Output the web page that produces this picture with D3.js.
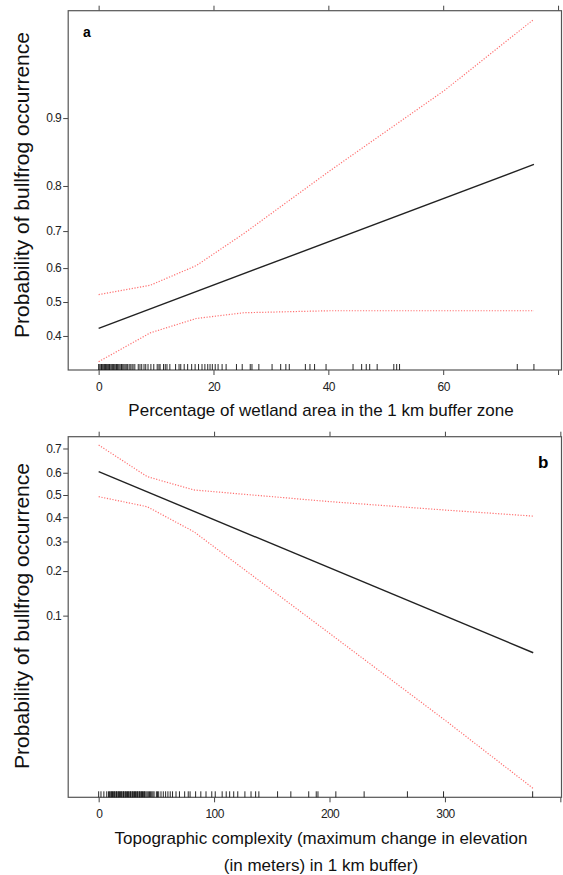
<!DOCTYPE html>
<html>
<head>
<meta charset="utf-8">
<script src="https://cdn.jsdelivr.net/npm/d3@7"></script>
<style>
  body { margin: 0; background: #fff; }
  text { font-family: "Liberation Sans", Arial, sans-serif; }
</style>
</head>
<body>
<div id="chart"></div>
<script>
// panel a: wetland %
var wetX = [0, 9, 17, 25.3, 40.2, 60.2, 75.8];
var wetFit = [0.422, 0.838];
var wetFitX = [0, 75.8];
var wetUpper = [0.522, 0.55, 0.607, 0.694, 0.827, 0.926, 0.967];
var wetLower = [0.329, 0.409, 0.451, 0.468, 0.474, 0.474, 0.474];
var wetRug = [0, 0.2, 0.4, 0.5, 0.7, 0.9, 1.0, 1.2, 1.4, 1.5, 1.7, 1.9, 2.0, 2.2, 2.4, 2.6, 2.8, 3.0, 3.1, 3.3,
  3.5, 3.7, 3.9, 4.0, 4.2, 4.4, 4.6, 4.8, 5.0, 5.3, 5.5, 5.8, 6.0, 6.3, 6.9, 7.2, 7.5, 7.9, 8.2, 8.6, 9.1,
  9.6, 10.2, 10.5, 10.7, 11.3, 11.6, 11.9, 12.4, 13.4, 14.0, 14.3, 14.9, 15.5, 16.2, 16.8, 17.4, 18.0,
  18.5, 19.0, 19.4, 19.8, 20.3, 20.8, 21.5, 22.2, 24.0, 25.0, 26.4, 26.7, 27.9, 30.2, 31.7, 32.6, 33.2,
  36.0, 36.8, 37.6, 39.6, 44.3, 45.8, 46.6, 47.2, 48.5, 51.4, 51.9, 52.4, 72.9, 75.8];
var wetXTicks = [0, 20, 40, 60, 80];
var wetYTicks = [0.4, 0.5, 0.6, 0.7, 0.8, 0.9];

// panel b: topographic complexity
var topoX = [0, 42, 82.4, 200, 300, 376.5];
var topoFit = [0.605, 0.0535];
var topoFitX = [0, 376.5];
var topoUpper = [0.713, 0.583, 0.523, 0.470, 0.432, 0.405];
var topoLower = [0.4925, 0.447, 0.339, 0.0745, 0.0163, 0.00475];
var topoRug = [0, 2, 4.5, 7, 8.5, 9.5, 10, 11, 11.5, 12, 13, 13.5, 14, 15, 15.5, 16, 17, 17.5, 18, 19, 19.5,
  20, 21, 21.5, 22, 23, 23.5, 24, 25, 25.5, 26, 27, 27.5, 28, 29, 29.5, 30, 31, 31.5, 32, 33, 33.5, 34, 35,
  35.5, 36, 37, 37.5, 38, 39, 39.5, 40, 41, 42, 43, 44, 45, 46, 47, 48, 50, 51, 52, 54, 56, 58, 60, 62, 64,
  67, 70, 74.5, 77.6, 79.2, 84, 88.5, 93, 98, 101, 107, 110.5, 113.5, 117, 120.5, 126.7, 132, 136, 138.8,
  155, 166.5, 182, 188.5, 190, 205.5, 230, 267.5, 298.8, 376];
var topoXTicks = [0, 100, 200, 300, 400];
var topoYTicks = [0.1, 0.2, 0.3, 0.4, 0.5, 0.6, 0.7];

var yTitle = "Probability of bullfrog occurrence";

var W = 563, H = 875;
var svg = d3.select("#chart").append("svg")
  .attr("width", W)
  .attr("height", H);

function logit(p) { return Math.log(p / (1 - p)); }

function drawPanel(o) {
  var x = d3.scaleLinear().domain(o.xDomain).range([o.left, o.right]);
  var y = d3.scaleLinear().domain(o.yDomain).range([o.bottom, o.top]);
  var g = svg.append("g");

  // ticks, bottom
  var xa = g.append("g")
    .attr("transform", "translate(0," + o.bottom + ")")
    .call(d3.axisBottom(x).tickValues(o.xTicks).tickSize(5).tickSizeOuter(0)
      .tickFormat(function(d, i) { return i < o.xTicks.length - 1 ? d : ""; }));
  xa.select(".domain").remove();
  xa.selectAll("text").attr("dy", "1.05em");

  // ticks, top (no labels)
  var xt = g.append("g")
    .attr("transform", "translate(0," + o.top + ")")
    .call(d3.axisTop(x).tickValues(o.xTicks).tickSize(5).tickFormat(""));
  xt.select(".domain").remove();

  var ya = g.append("g")
    .attr("transform", "translate(" + o.left + ",0)")
    .call(d3.axisLeft(y).tickValues(o.yTicks.map(logit)).tickSize(5)
      .tickFormat(function(d, i) { return o.yTicks[i].toFixed(1); }));
  ya.select(".domain").remove();
  ya.selectAll("text").attr("x", -7);

  g.selectAll(".tick line").attr("stroke", "#444");
  g.selectAll(".tick text")
    .attr("fill", "#222")
    .style("font-size", "12px")
    .style("letter-spacing", "-0.6px");

  g.append("rect")
    .attr("x", o.left).attr("y", o.top)
    .attr("width", o.right - o.left).attr("height", o.bottom - o.top)
    .attr("fill", "none")
    .attr("stroke", "#555")
    .attr("stroke-width", 1.2);

  // rug
  g.selectAll(".rug")
    .data(o.rug)
    .enter()
    .append("line")
      .attr("x1", function(d) { return x(d); })
      .attr("x2", function(d) { return x(d); })
      .attr("y1", o.bottom)
      .attr("y2", o.bottom - 6)
      .attr("stroke", "#111")
      .attr("stroke-width", 0.9);

  var ci = d3.line()
    .x(function(d) { return x(d[0]); })
    .y(function(d) { return y(logit(d[1])); });

  [o.upper, o.lower].forEach(function(vals) {
    g.append("path")
      .datum(o.ciX.map(function(v, i) { return [v, vals[i]]; }))
      .attr("d", ci)
      .attr("fill", "none")
      .attr("stroke", "#ff7070")
      .attr("stroke-width", 1.2)
      .attr("stroke-dasharray", "1.2,1.6");
  });

  g.append("path")
    .datum(o.fitX.map(function(v, i) { return [v, o.fit[i]]; }))
    .attr("d", ci)
    .attr("fill", "none")
    .attr("stroke", "#222")
    .attr("stroke-width", 1.4);

  g.append("text")
    .attr("x", o.tagX).attr("y", o.tagY)
    .style("font-size", o.tagSize + "px")
    .style("font-weight", "bold")
    .text(o.tag);

  g.append("text")
    .attr("transform", "translate(29," + o.yTitleY + ")rotate(-90)")
    .attr("text-anchor", "middle")
    .style("font-size", "21px")
    .attr("fill", "#111")
    .text(yTitle);

  o.xTitle.forEach(function(t, i) {
    g.append("text")
      .attr("x", o.xTitleX)
      .attr("y", o.xTitleY + i * 27)
      .attr("text-anchor", "middle")
      .style("font-size", "17px")
      .attr("fill", "#111")
      .text(t);
  });
}

drawPanel({
  left: 68.2, right: 561.5, top: 10.7, bottom: 370,
  xDomain: [-5.3, 80.6], yDomain: [-0.812, 3.48],
  xTicks: wetXTicks, yTicks: wetYTicks,
  ciX: wetX, upper: wetUpper, lower: wetLower,
  fitX: wetFitX, fit: wetFit, rug: wetRug,
  tag: "a", tagX: 83, tagY: 37, tagSize: 14,
  yTitleY: 185,
  xTitle: ["Percentage of wetland area in the 1 km buffer zone"], xTitleX: 321, xTitleY: 416
});

drawPanel({
  left: 68.2, right: 561.5, top: 436.7, bottom: 797.3,
  xDomain: [-26.4, 401], yDomain: [-5.506, 1.062],
  xTicks: topoXTicks, yTicks: topoYTicks,
  ciX: topoX, upper: topoUpper, lower: topoLower,
  fitX: topoFitX, fit: topoFit, rug: topoRug,
  tag: "b", tagX: 538, tagY: 468, tagSize: 17,
  yTitleY: 616,
  xTitle: ["Topographic complexity (maximum change in elevation", "(in meters) in 1 km buffer)"],
  xTitleX: 321, xTitleY: 844
});
</script>
</body>
</html>
